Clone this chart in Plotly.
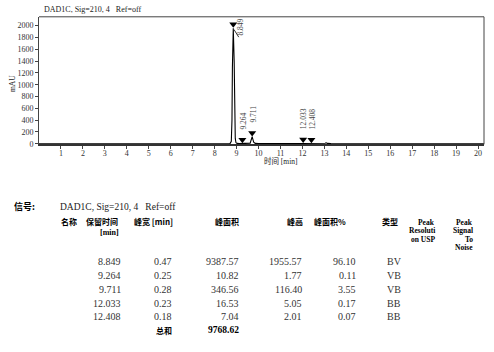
import plotly.graph_objects as go

# ---------------- data ----------------
trace_time = [0.0, 1.45, 1.55, 1.62, 1.72, 2.0, 2.3, 8.0, 8.70, 8.76, 8.79, 8.81, 8.849,
              8.89, 8.91, 8.94, 8.97, 9.02, 9.12, 9.20, 9.264, 9.33, 9.45, 9.62, 9.66,
              9.69, 9.711, 9.74, 9.78, 9.85, 10.0, 11.0, 11.95, 12.033, 12.11, 12.33,
              12.408, 12.48, 12.9, 13.03, 13.08, 13.14, 13.3, 14.0, 15.9, 16.02, 16.1,
              16.3, 17.6, 18.0, 20.27]
trace_signal = [0, 0, 2, 9, 1, 0, 0, 1, 3, 40, 400, 1300, 1955.57,
                1400, 500, 90, 20, 6, 3, 2.5, 3.8, 2.5, 2, 10, 60,
                105, 118.4, 80, 25, 6, 3, 2, 2, 7.0, 2.5, 2,
                4.0, 2, 2, 8, 16, 6, 4, 4, 4, 9, 5,
                4, 4, 1, 1]

ret_times = [8.849, 9.264, 9.711, 12.033, 12.408]
peak_widths = [0.47, 0.25, 0.28, 0.23, 0.18]
peak_areas = [9387.57, 10.82, 346.56, 16.53, 7.04]
peak_heights = [1955.57, 1.77, 116.40, 5.05, 2.01]
area_pct = [96.10, 0.11, 3.55, 0.17, 0.07]
peak_types = ["BV", "VB", "VB", "BB", "BB"]
total_area = 9768.62

x_ticks = list(range(1, 21))
y_ticks = list(range(0, 2001, 200))

chart_title = "DAD1C, Sig=210, 4   Ref=off"
signal_label = "信号:"
x_title = "时间 [min]"
y_title = "mAU"

# ---------------- layout constants ----------------
W, H = 494, 352
PL, PR, PT, PB = 39, 484, 17, 146  # plot area in pixels
XR = [0, 20.27]
YR = [-10, 2150]
units_per_px = (YR[1] - YR[0]) / (PB - PT)

SERIF = "Liberation Serif, Noto Sans CJK SC"
CJK = "Noto Sans CJK SC"


def px(xp):
    return xp / W


def py(yp):
    return 1 - yp / H


fig = go.Figure()

# chromatogram
fig.add_trace(go.Scatter(x=trace_time, y=trace_signal, mode="lines",
                         line=dict(color="black", width=1.1), hoverinfo="skip",
                         showlegend=False))

# peak markers (triangle tip at apex)
marker_off = 4 * units_per_px
fig.add_trace(go.Scatter(x=ret_times, y=[h + marker_off for h in peak_heights],
                         mode="markers",
                         marker=dict(symbol="triangle-down", size=7, color="black"),
                         hoverinfo="skip", showlegend=False))

annotations = []
shapes = []

# peak labels
for i, (rt, h) in enumerate(zip(ret_times, peak_heights)):
    txt = f"{rt:.3f}"
    if i == 0:
        annotations.append(dict(x=rt, y=h, xref="x", yref="y", text=txt, showarrow=False,
                                textangle=-90, xanchor="center", yanchor="middle",
                                xshift=7, yshift=1,
                                font=dict(family=SERIF, size=7.5, color="#444")))
        shapes.append(dict(type="line", xref="x", yref="y", x0=rt + 0.03, y0=h - 20,
                           x1=rt + 0.25, y1=h - 150, line=dict(color="#333", width=1)))
    else:
        annotations.append(dict(x=rt, y=h, xref="x", yref="y", text=txt, showarrow=False,
                                textangle=-90, xanchor="center", yanchor="bottom",
                                xshift=1, yshift=12,
                                font=dict(family=SERIF, size=7.5, color="#444")))

# frame: top and right borders
shapes.append(dict(type="line", xref="paper", yref="paper", x0=px(PL), x1=px(PR),
                   y0=py(PT), y1=py(PT), line=dict(color="#444", width=1)))
shapes.append(dict(type="line", xref="paper", yref="paper", x0=px(PR), x1=px(PR),
                   y0=py(PT), y1=py(PB), line=dict(color="#444", width=1)))


def add_text(x, y, text, size=9, anchor="left", bold=False, family=SERIF, color="#222"):
    annotations.append(dict(x=px(x), y=py(y), xref="paper", yref="paper",
                            text=f"<b>{text}</b>" if bold else text, showarrow=False,
                            xanchor=anchor, yanchor="middle",
                            font=dict(family=family, size=size, color=color)))


# titles
add_text(42, 9.5, chart_title, size=8)
add_text(262, 162.5, x_title, size=7.5)
annotations.append(dict(x=px(12), y=py(85), xref="paper", yref="paper", text=y_title,
                        showarrow=False, textangle=-90, xanchor="center", yanchor="middle",
                        font=dict(family=SERIF, size=7.5, color="#222")))

# table
add_text(12, 209, signal_label, size=9, bold=True, family=CJK, color="black")
add_text(58, 209, chart_title, size=9.5)

hdr = dict(size=8, bold=True, family=CJK, color="black")
add_text(59, 224.5, "名称", anchor="left", **hdr)
add_text(120, 224.5, "保留时间", anchor="right", **hdr)
add_text(121, 235, "[min]", anchor="right", size=8, bold=True,
         family="Liberation Serif", color="black")
add_text(132, 224.5, "峰宽 [min]", anchor="left", **hdr)
add_text(241, 224.5, "峰面积", anchor="right", **hdr)
add_text(305, 224.5, "峰高", anchor="right", **hdr)
add_text(348, 224.5, "峰面积%", anchor="right", **hdr)
add_text(380, 224.5, "类型", anchor="left", **hdr)
lat = dict(size=7.5, bold=True, family="Liberation Serif", color="black")
for j, t in enumerate(["Peak", "Resoluti", "on USP"]):
    add_text(437, 225 + 8.5 * j, t, anchor="right", **lat)
for j, t in enumerate(["Peak", "Signal", "To", "Noise"]):
    add_text(475, 225 + 8.5 * j, t, anchor="right", **lat)

row_y = [264.3, 278.7, 292.7, 306.7, 320.5]
cell = dict(size=10, family="Liberation Serif", color="#333")
for i in range(len(ret_times)):
    y = row_y[i]
    add_text(123, y, f"{ret_times[i]:.3f}", anchor="right", **cell)
    add_text(174, y, f"{peak_widths[i]:.2f}", anchor="right", **cell)
    add_text(241, y, f"{peak_areas[i]:.2f}", anchor="right", **cell)
    add_text(304, y, f"{peak_heights[i]:.2f}", anchor="right", **cell)
    add_text(358, y, f"{area_pct[i]:.2f}", anchor="right", **cell)
    add_text(385, y, peak_types[i], anchor="left", **cell)

add_text(174, 334, "总和", anchor="right", size=8, bold=True, family=CJK, color="black")
add_text(241, 334, f"{total_area:.2f}", anchor="right", size=9.5, bold=True,
         family="Liberation Serif", color="black")

fig.update_layout(
    width=W, height=H,
    margin=dict(l=0, r=0, t=0, b=0),
    paper_bgcolor="white", plot_bgcolor="white",
    showlegend=False,
    xaxis=dict(domain=[px(PL), px(PR)], range=XR, tickmode="array", tickvals=x_ticks,
               ticktext=[str(v) for v in x_ticks], ticks="outside", ticklen=3,
               tickcolor="#444", showline=True, linecolor="#333", linewidth=2,
               showgrid=False, zeroline=False, ticklabelstandoff=-3,
               tickfont=dict(family=SERIF, size=8, color="#333")),
    yaxis=dict(domain=[1 - PB / H, 1 - PT / H], range=YR, tickmode="array",
               tickvals=y_ticks, ticktext=[str(v) for v in y_ticks], ticks="outside",
               ticklen=3, tickcolor="#444", showline=True, linecolor="#444",
               linewidth=1, showgrid=False, zeroline=False,
               tickfont=dict(family=SERIF, size=8, color="#333")),
    annotations=annotations,
    shapes=shapes,
)

fig.write_html("out.html")
